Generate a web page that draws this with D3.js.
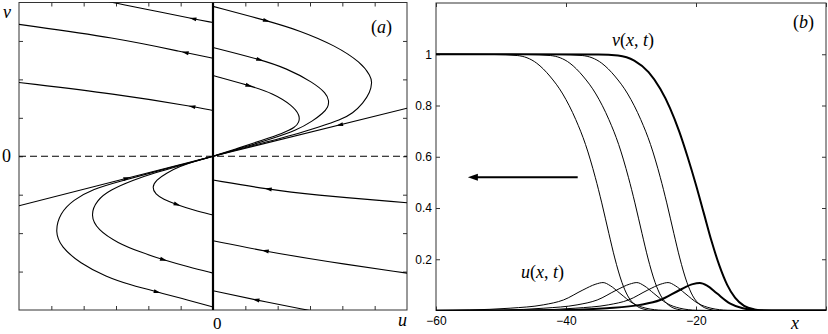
<!DOCTYPE html>
<html>
<head>
<meta charset="utf-8">
<script src="https://cdn.jsdelivr.net/npm/d3@7"></script>
<style>
    body { margin: 0; background: #fff; }
    .lbl { font-family: "Liberation Serif", "DejaVu Serif", serif; font-size: 18px; fill: #000; }
    .it { font-style: italic; }
    .axis text { font-family: "Liberation Sans", Arial, sans-serif; font-size: 12px; fill: #000; }
    .axis line { stroke: #333; }
    .axis path { display: none; }
</style>
</head>
<body>
<svg id="chart" width="828" height="334"></svg>
<script>

// ===== data, panel (a): trajectories [u, v], points listed in flow direction
var upperLeft = [
    [[0, 3.48], [-0.65, 3.58], [-1.5, 3.73], [-2.94, 3.97], [-3.3, 4.04]],
    [[0, 2.55], [-0.87, 2.7], [-3, 3.08], [-6, 3.43]],
    [[0, 1.19], [-0.65, 1.3], [-3, 1.62], [-6, 1.92]]
]
var upperLeftArrows = [[-0.62, 3.58], [-0.87, 2.7], [-0.65, 1.3]]

var lowerRight = [
    [[6, -1.21], [3, -1.0], [1.7, -0.86], [0, -0.62]],
    [[6, -3.04], [3.5, -2.74], [1.61, -2.47], [0, -2.2]],
    [[3.3, -4.06], [2.91, -4], [1.33, -3.74], [0, -3.5]]
]
var lowerRightArrows = [[1.7, -0.86], [1.61, -2.47], [1.33, -3.74]]

var rightLoops = [
    [[0, 3.9], [1.66, 3.53], [2.69, 3.27], [3.78, 2.88], [4.58, 2.44], [4.88, 2.08], [4.92, 1.92], [4.86, 1.66], [4.64, 1.38], [4.33, 1.12], [3.93, 0.94], [3.3, 0.77], [2.5, 0.56], [1.6, 0.36], [0.8, 0.18], [0, 0]],
    [[0, 2.83], [1.45, 2.52], [2.27, 2.29], [3.1, 1.92], [3.5, 1.64], [3.59, 1.45], [3.56, 1.27], [3.4, 1.12], [3.09, 0.92], [2.6, 0.68], [1.8, 0.45], [1.0, 0.245], [0, 0]],
    [[0, 2.1], [1.12, 1.84], [1.85, 1.64], [2.46, 1.32], [2.69, 1.06], [2.66, 0.88], [2.54, 0.75], [2.17, 0.6], [1.5, 0.41], [0.8, 0.215], [0, 0]]
]
var rightLoopArrows = [[1.66, 3.53], [1.45, 2.52], [1.12, 1.84]]

var leftLoops = [
    [[0, 0], [-1.0, -0.225], [-1.95, -0.44], [-2.88, -0.65], [-3.71, -0.85], [-4.33, -1.14], [-4.73, -1.48], [-4.89, -1.97], [-4.7, -2.36], [-4.12, -2.78], [-3.3, -3.14], [-2.55, -3.35], [-1.73, -3.53], [-1.0, -3.69], [0, -3.92]],
    [[0, 0], [-1.0, -0.24], [-1.8, -0.43], [-2.47, -0.62], [-3.19, -0.88], [-3.59, -1.14], [-3.8, -1.53], [-3.57, -1.92], [-2.94, -2.26], [-2.26, -2.49], [-1.53, -2.7], [-0.76, -2.88], [0, -3.04]],
    [[0, 0], [-0.56, -0.13], [-1.02, -0.26], [-1.45, -0.44], [-1.76, -0.62], [-1.89, -0.81], [-1.78, -0.99], [-1.54, -1.12], [-1.15, -1.25], [-0.6, -1.4], [0, -1.53]]
]
var leftLoopArrows = [[-1.73, -3.53], [-1.53, -2.7], [-1.1, -1.26]]

var straightRight = [[6, 1.25], [0, 0]]
var straightLeft = [[-6, -1.29], [0, 0]]
var straightArrows = [[3.92, 0.82], [-2.66, -0.55]]

var uTicks = [-5, -4, -3, -2, -1, 0, 1, 2, 3, 4, 5]
var vTicks = [-3, -2, -1, 0, 1, 2, 3]

// ===== data, panel (b): profiles [x, value]
var vFronts = [
    [[-60, 1], [-51, 0.999], [-47.5, 0.995], [-44.5, 0.965], [-42.5, 0.915], [-40.5, 0.845], [-38.5, 0.745], [-37, 0.648], [-35.5, 0.52], [-34.5, 0.42], [-33.4, 0.3], [-32.5, 0.205], [-31.4, 0.11], [-30.5, 0.057], [-29.3, 0.021], [-28, 0.005], [-26.5, 0], [0, 0]],
    [[-60, 1], [-45.9, 0.999], [-42.4, 0.995], [-39.4, 0.965], [-37.4, 0.915], [-35.4, 0.845], [-33.4, 0.745], [-31.9, 0.648], [-30.4, 0.52], [-29.4, 0.42], [-28.3, 0.3], [-27.4, 0.205], [-26.3, 0.11], [-25.4, 0.057], [-24.2, 0.021], [-22.9, 0.005], [-21.4, 0], [0, 0]],
    [[-60, 1], [-41, 0.999], [-37.5, 0.995], [-34.5, 0.965], [-32.5, 0.915], [-30.5, 0.845], [-28.5, 0.745], [-27, 0.648], [-25.5, 0.52], [-24.5, 0.42], [-23.4, 0.3], [-22.5, 0.205], [-21.4, 0.11], [-20.5, 0.057], [-19.3, 0.021], [-18, 0.005], [-16.5, 0], [0, 0]],
    [[-60, 1], [-35, 0.999], [-32, 0.995], [-29.5, 0.975], [-27.3, 0.93], [-25.5, 0.865], [-24, 0.79], [-22.6, 0.7], [-21.3, 0.6], [-20, 0.49], [-18.8, 0.38], [-17.6, 0.27], [-16.4, 0.175], [-15.2, 0.1], [-14, 0.05], [-12.6, 0.018], [-11, 0.004], [-9.5, 0], [0, 0]]
]
var uPulses = [
    [[-60, 0], [-54.8, 0.002], [-48.6, 0.009], [-43.5, 0.022], [-40.4, 0.041], [-37.4, 0.08], [-35.4, 0.103], [-34.3, 0.109], [-33.2, 0.097], [-31.7, 0.067], [-29.7, 0.028], [-27.7, 0.009], [-25.1, 0.001], [-22.3, 0], [0, 0]],
    [[-60, 0], [-49.6, 0.002], [-43.4, 0.009], [-38.3, 0.022], [-35.2, 0.041], [-32.2, 0.08], [-30.2, 0.103], [-29.1, 0.109], [-28, 0.097], [-26.5, 0.067], [-24.5, 0.028], [-22.5, 0.009], [-19.9, 0.001], [-17.1, 0], [0, 0]],
    [[-60, 0], [-44.8, 0.002], [-38.6, 0.009], [-33.5, 0.022], [-30.4, 0.041], [-27.4, 0.08], [-25.4, 0.103], [-24.3, 0.109], [-23.2, 0.097], [-21.7, 0.067], [-19.7, 0.028], [-17.7, 0.009], [-15.1, 0.001], [-12.3, 0], [0, 0]],
    [[-60, 0], [-45, 0.0005], [-39.9, 0.002], [-33.7, 0.009], [-28.6, 0.022], [-25.5, 0.041], [-22.5, 0.08], [-20.5, 0.103], [-19.4, 0.107], [-18.3, 0.097], [-16.8, 0.067], [-14.8, 0.028], [-12.8, 0.009], [-10.2, 0.001], [-7, 0], [0, 0]]
]
var frontWidths = [1, 1, 1, 2]
var moveArrow = [[-38.2, 0.52], [-55.1, 0.52]]

var xTicks = [-60, -40, -20, 0]
var yTicks = [0.2, 0.4, 0.6, 0.8, 1]

// ==============================

var svg = d3.select("#chart")

var ua = d3.scaleLinear().domain([-6, 6]).range([19, 407])
var va = d3.scaleLinear().domain([-4, 4]).range([310, 2.5])

var xb = d3.scaleLinear().domain([-60, 0]).range([436, 826])
var yb = d3.scaleLinear().domain([0, 1.2]).range([310.5, 3])

function clipFor(id, sx, sy) {
    svg.append("clipPath").attr("id", id)
        .append("rect")
        .attr("x", sx.range()[0]).attr("y", sy.range()[1])
        .attr("width", sx.range()[1] - sx.range()[0])
        .attr("height", sy.range()[0] - sy.range()[1])
}

function frame(sx, sy, xt, yt, xFmt, yFmt) {
    var g = svg.append("g")
    var h = sy.range()[0] - sy.range()[1]
    var w = sx.range()[1] - sx.range()[0]

    g.append("g").attr("class", "axis")
        .attr("transform", "translate(0," + sy.range()[0] + ")")
        .call(d3.axisBottom(sx).tickValues(xt).tickSizeInner(-4).tickSizeOuter(0).tickPadding(6).tickFormat(xFmt))
    g.append("g").attr("class", "axis")
        .attr("transform", "translate(0," + sy.range()[1] + ")")
        .call(d3.axisTop(sx).tickValues(xt).tickSizeInner(-4).tickSizeOuter(0).tickFormat(""))
    g.append("g").attr("class", "axis")
        .attr("transform", "translate(" + sx.range()[0] + ",0)")
        .call(d3.axisLeft(sy).tickValues(yt).tickSizeInner(-4).tickSizeOuter(0).tickPadding(4).tickFormat(yFmt))
    g.append("g").attr("class", "axis")
        .attr("transform", "translate(" + sx.range()[1] + ",0)")
        .call(d3.axisRight(sy).tickValues(yt).tickSizeInner(-4).tickSizeOuter(0).tickFormat(""))

    g.append("rect")
        .attr("x", sx.range()[0]).attr("y", sy.range()[1])
        .attr("width", w).attr("height", h)
        .style("fill", "none").style("stroke", "#333").style("stroke-width", 1)
}

// arrowhead on a drawn path, at the point closest to the anchor
function arrowOn(g, node, anchor, sx, sy) {
    var total = node.getTotalLength()
    var px = sx(anchor[0]), py = sy(anchor[1])
    var best = 0, bestD = Infinity
    for (var l = 0; l <= total; l += 0.5) {
        var p = node.getPointAtLength(l)
        var d = (p.x - px) * (p.x - px) + (p.y - py) * (p.y - py)
        if (d < bestD) { bestD = d; best = l }
    }
    var a = node.getPointAtLength(Math.max(best - 1.5, 0))
    var b = node.getPointAtLength(Math.min(best + 1.5, total))
    var ang = Math.atan2(b.y - a.y, b.x - a.x) * 180 / Math.PI
    var c = node.getPointAtLength(best)
    g.append("path")
        .attr("d", "M3.5,0L-3.5,-2L-3.5,2Z")
        .attr("transform", "translate(" + c.x + "," + c.y + ") rotate(" + ang + ")")
        .style("fill", "#000")
}

// ===== panel (a)
clipFor("clipA", ua, va)
frame(ua, va, uTicks, vTicks, "", "")

var gA = svg.append("g").attr("clip-path", "url(#clipA)")
var lineA = d3.line().x(d => ua(d[0])).y(d => va(d[1])).curve(d3.curveBasis)

function drawTraj(list, arrows) {
    list.forEach(function (pts, i) {
        var p = gA.append("path")
            .attr("d", lineA(pts))
            .style("fill", "none").style("stroke", "#000").style("stroke-width", 1.1)
        arrowOn(gA, p.node(), arrows[i], ua, va)
    })
}
drawTraj(upperLeft, upperLeftArrows)
drawTraj(lowerRight, lowerRightArrows)
drawTraj(rightLoops, rightLoopArrows)
drawTraj(leftLoops, leftLoopArrows)
drawTraj([straightRight, straightLeft], straightArrows)

gA.append("line")
    .attr("x1", ua(-6)).attr("x2", ua(6)).attr("y1", va(0)).attr("y2", va(0))
    .style("stroke", "#000").style("stroke-width", 1).style("stroke-dasharray", "7,4")
gA.append("line")
    .attr("x1", ua(0)).attr("x2", ua(0)).attr("y1", va(4)).attr("y2", va(-4))
    .style("stroke", "#000").style("stroke-width", 2.2)

svg.append("text").attr("class", "lbl it").attr("x", 3).attr("y", 18).text("v")
svg.append("text").attr("class", "lbl").attr("x", 2).attr("y", va(0) + 6).text("0")
svg.append("text").attr("class", "lbl").attr("x", ua(0)).attr("y", 329).style("font-size", "17px").text("0")
svg.append("text").attr("class", "lbl it").attr("x", 398).attr("y", 326).text("u")
svg.append("text").attr("class", "lbl").attr("x", 371).attr("y", 33).html("(<tspan class='it'>a</tspan>)")

// ===== panel (b)
clipFor("clipB", xb, yb)
frame(xb, yb, xTicks, yTicks, d => d === 0 ? "" : d3.format("")(d), d3.format(""))

var gB = svg.append("g").attr("clip-path", "url(#clipB)")
var lineB = d3.line().x(d => xb(d[0])).y(d => yb(d[1])).curve(d3.curveMonotoneX)

vFronts.forEach(function (pts, i) {
    gB.append("path").attr("d", lineB(pts))
        .style("fill", "none").style("stroke", "#000").style("stroke-width", frontWidths[i])
})
uPulses.forEach(function (pts, i) {
    gB.append("path").attr("d", lineB(pts))
        .style("fill", "none").style("stroke", "#000").style("stroke-width", frontWidths[i])
})

// direction of travel
var ax0 = xb(moveArrow[0][0]), ay = yb(moveArrow[0][1]), ax1 = xb(moveArrow[1][0])
svg.append("line")
    .attr("x1", ax0).attr("x2", ax1 + 8).attr("y1", ay).attr("y2", ay)
    .style("stroke", "#000").style("stroke-width", 2)
svg.append("path")
    .attr("d", "M" + ax1 + "," + ay + "L" + (ax1 + 10) + "," + (ay - 3.5) + "L" + (ax1 + 10) + "," + (ay + 3.5) + "Z")
    .style("fill", "#000")

svg.append("text").attr("class", "lbl").attr("x", 612).attr("y", 46)
    .html("<tspan class='it'>v</tspan>(<tspan class='it'>x</tspan>, <tspan class='it'>t</tspan>)")
svg.append("text").attr("class", "lbl").attr("x", 521).attr("y", 278)
    .html("<tspan class='it'>u</tspan>(<tspan class='it'>x</tspan>, <tspan class='it'>t</tspan>)")
svg.append("text").attr("class", "lbl").attr("x", 793).attr("y", 28).html("(<tspan class='it'>b</tspan>)")
svg.append("text").attr("class", "lbl it").attr("x", 791).attr("y", 329).text("x")

</script>
</body>
</html>
